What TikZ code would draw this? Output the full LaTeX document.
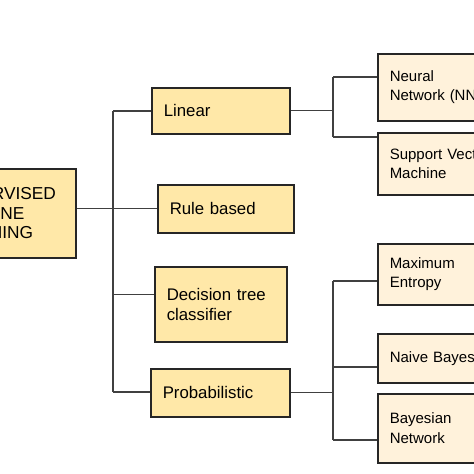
\documentclass[tikz,border=0pt]{standalone}
\usepackage{fontspec}
\setmainfont{Liberation Sans}
\usetikzlibrary{positioning}
\tikzset{box/.style = {draw = mdark, fill = mgold, line width = 1.5pt, rectangle,
                       anchor = north west, inner xsep = 12pt, align = left,
                       font = \fontsize{16.8}{20}\selectfont}}
\tikzset{leaf/.style = {box, fill = mcream, font = \fontsize{15}{19.5}\selectfont}}
\tikzset{wire/.style = {draw = mwire, line width = 1.3pt}}
\definecolor{mgold}{rgb}{1, 0.91, 0.66}
\definecolor{mcream}{rgb}{1, 0.95, 0.86}
\definecolor{mdark}{rgb}{0.15, 0.15, 0.15}
\definecolor{mwire}{rgb}{0.25, 0.25, 0.25}

\begin{document}
\begin{tikzpicture}[x=1pt, y=-1pt]
      \useasboundingbox (0, 0) rectangle (474, 474);
      \fill [white] (0, 0) rectangle (474, 474);
      \clip (0, 0) rectangle (474, 474);

      \node [box, font = \fontsize{17.3}{19.3}\selectfont, text width = 119, minimum height = 89]
        (root) at (-68, 168) {SUPERVISED\\MACHINE\\LEARNING};

      \node [box, text width = 114, minimum height = 46] (linear) at (151, 87) {Linear};
      \node [box, text width = 112, minimum height = 48] (rule) at (157, 184) {Rule based};
      \node [box, text width = 108, minimum height = 75] (dtree) at (154, 266) {Decision tree\\classifier};
      \node [box, text width = 115, minimum height = 48] (prob) at (150, 368) {Probabilistic};

      % leaves, cut by the right edge
      \node [leaf, text width = 116, minimum height = 67] (neural) at (377, 53) {Neural\\Network (NN)};
      \node [leaf, text width = 116, minimum height = 62] (svm) at (377, 132) {Support Vector\\Machine};
      \node [leaf, text width = 116, minimum height = 61] (maxent) at (377, 243) {Maximum\\Entropy};
      \node [leaf, text width = 116, minimum height = 49] (naive) at (377, 333) {Naive Bayes};
      \node [leaf, text width = 116, minimum height = 69] (bayes) at (377, 393) {Bayesian\\Network};

      \coordinate (ltop) at (113, 111);
      \coordinate (lbot) at (113, 392);
      \coordinate (djoin) at ([yshift=9.5pt]dtree.west);
      \coordinate (ntop) at (333, 77);
      \coordinate (nbot) at (333, 137);
      \coordinate (ptop) at (333, 281);
      \coordinate (pmid) at (333, 367);
      \coordinate (pbot) at (333, 440);

      \draw [wire] (ltop) -- (lbot);
      \draw [wire] (ltop) -- (linear.west |- ltop);
      \draw [wire] (root.east |- rule.west) -- (rule.west);
      \draw [wire] (lbot |- djoin) -- (djoin);
      \draw [wire] (lbot) -- (prob.west |- lbot);

      \draw [wire] (linear.east) -- (linear.east -| ntop);
      \draw [wire] (ntop) -- (nbot);
      \draw [wire] (ntop) -- (neural.west |- ntop);
      \draw [wire] (nbot) -- (svm.west |- nbot);

      \draw [wire] (prob.east) -- (prob.east -| ptop);
      \draw [wire] (ptop) -- (pbot);
      \draw [wire] (ptop) -- (maxent.west |- ptop);
      \draw [wire] (pmid) -- (naive.west |- pmid);
      \draw [wire] (pbot) -- (bayes.west |- pbot);
\end{tikzpicture}
\end{document}
